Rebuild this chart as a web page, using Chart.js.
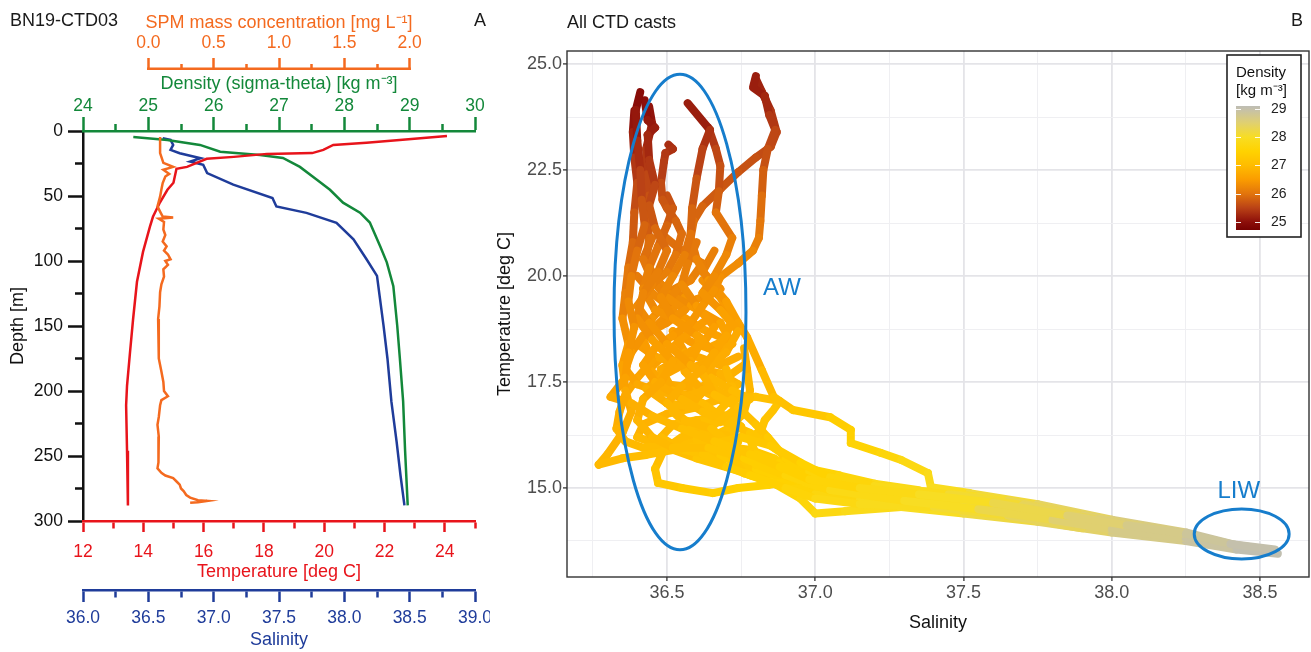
<!DOCTYPE html>
<html>
<head>
<meta charset="utf-8">
<title>CTD profile and T-S diagram</title>
<script src="https://cdn.jsdelivr.net/npm/chart.js@4/dist/chart.umd.min.js"></script>
<style>
  html, body { margin:0; padding:0; background:#fff; }
  #wrap { position:relative; width:1311px; height:652px; overflow:hidden; font-family:'Liberation Sans', Arial, sans-serif; }
  canvas { position:absolute; top:0; }
  #cA { left:0; }
  #cB { left:490px; }
  .txt { position:absolute; font-size:18px; line-height:18px; white-space:nowrap; color:#1a1a1a; }
</style>
</head>
<body>
<div id="wrap">
  <canvas id="cA" width="490" height="652"></canvas>
  <canvas id="cB" width="821" height="652"></canvas>
  <div class="txt" style="left:10px; top:11px;">BN19-CTD03</div>
  <div class="txt" style="left:474px; top:11px;">A</div>
  <div class="txt" style="left:567px; top:13px;">All CTD casts</div>
  <div class="txt" style="left:1291px; top:11px;">B</div>
</div>
<script>
// ================= Panel A: profile data (depth in m) =================
const tempDepth   = [3.8,6.9,9.0,10.7,14.5,17.0,17.6,19.9,21.4,27.6,29.1,39.8,45.2,55,66,73.5,93,116,145,170,196,211,246,288];
const temperature = [24.07,22.5,21.4,20.3,19.97,19.6,18.1,17.0,16.1,15.45,15.1,15.0,14.8,14.55,14.32,14.22,13.99,13.79,13.66,13.56,13.46,13.43,13.46,13.49];

const salDepth = [5.6,6.9,10.7,14.5,17.1,20.9,23.5,26,32.4,41.3,51.5,58.1,63,70.6,83.4,98.7,111.5,126.8,149.7,175,208,239,265,288];
const salinity = [36.61,36.67,36.69,36.67,36.74,36.90,36.82,36.92,36.95,37.15,37.45,37.48,37.71,37.94,38.07,38.17,38.25,38.27,38.30,38.33,38.36,38.40,38.43,38.46];

const densDepth  = [4.6,6.9,10.7,16,18.4,20.7,27.6,37.5,45.2,55.1,62.8,70.4,88.8,101,119.4,150,175,208,246,288];
const sigmaTheta = [24.77,25.29,25.79,26.10,26.71,27.06,27.32,27.58,27.78,27.98,28.24,28.39,28.55,28.65,28.75,28.81,28.85,28.90,28.93,28.97];

const spmDepth = [4.6,10,17,24.5,27.6,29.8,33,35,40,45,50.5,58,62,65.8,66.6,67.5,70,75.8,80,85,88.8,92,95,98.7,100,103,106.4,112,118,124,135,144.6,160,175,185,193,200,204,207,211,220,226,235,246,255,259.5,263,265,267,270,272,275,277,280,282,284,284.5,285.5,286];
const spmConc  = [0.09,0.09,0.09,0.115,0.19,0.115,0.16,0.13,0.11,0.10,0.09,0.07,0.09,0.11,0.19,0.08,0.12,0.115,0.13,0.11,0.14,0.12,0.15,0.17,0.13,0.15,0.115,0.12,0.10,0.09,0.085,0.075,0.08,0.08,0.10,0.115,0.12,0.15,0.10,0.09,0.08,0.07,0.08,0.08,0.075,0.07,0.10,0.13,0.19,0.22,0.24,0.25,0.27,0.29,0.32,0.38,0.45,0.38,0.32];

// tick labels, panel A
const depthTickLabels = [0,50,100,150,200,250,300];
const tempTickLabels  = [12,14,16,18,20,22,24];
const salTickLabels   = [36.0,36.5,37.0,37.5,38.0,38.5,39.0];
const densTickLabels  = [24,25,26,27,28,29,30];
const spmTickLabels   = [0.0,0.5,1.0,1.5,2.0];

// ================= Panel B: T-S casts, points = [salinity, temperature, sigma-theta] =================
const cast01 = [[36.41,24.34,24.9],[36.395,23.92,25.0],[36.40,23.2,25.2],[36.41,22.5,25.4],[36.415,21.8,25.6],[36.425,21.2,25.8],[36.40,20.6,25.9],[36.38,20.0,26.1],[36.37,19.4,26.2],[36.39,18.8,26.35],[36.37,18.2,26.45],[36.36,17.6,26.55],[36.31,17.15,26.65],[36.38,17.0,26.75],[36.45,16.7,26.85],[36.55,16.4,27.0],[36.66,16.1,27.1],[36.78,15.8,27.3],[36.88,15.5,27.4],[36.98,15.2,27.5],[37.15,15.0,27.7],[37.35,14.85,27.9],[37.60,14.65,28.1],[37.85,14.35,28.4],[38.05,14.12,28.6],[38.25,13.92,28.8],[38.40,13.68,28.9],[38.55,13.55,29.1]];
const cast02 = [[36.425,24.15,24.9],[36.435,23.68,25.1],[36.46,23.5,25.1],[36.435,23.33,25.2],[36.44,22.74,25.3],[36.46,22.15,25.5],[36.44,21.67,25.6],[36.46,21.13,25.8],[36.50,20.6,26.0],[36.47,20.1,26.1],[36.42,19.6,26.2],[36.40,19.0,26.25],[36.45,18.5,26.45],[36.52,18.0,26.65],[36.48,17.5,26.65],[36.42,17.1,26.75],[36.40,16.6,26.85],[36.45,16.2,26.9],[36.52,15.95,27.0],[36.64,15.95,27.1],[36.76,15.7,27.3],[36.90,15.3,27.5],[37.05,14.95,27.7],[37.30,14.7,27.9],[37.55,14.5,28.1],[37.80,14.25,28.4],[38.00,14.02,28.6],[38.25,13.82,28.8],[38.42,13.6,29.0],[38.54,13.5,29.1]];
const cast03 = [[36.39,23.9,25.0],[36.385,23.4,25.1],[36.39,22.8,25.3],[36.40,22.2,25.5],[36.39,21.5,25.7],[36.385,20.8,25.8],[36.37,20.2,26.0],[36.36,19.6,26.1],[36.35,19.0,26.25],[36.37,18.4,26.45],[36.35,17.9,26.55],[36.36,17.3,26.65],[36.38,16.8,26.75],[36.35,16.3,26.8],[36.30,15.8,26.9],[36.27,15.55,26.9],[36.35,15.7,27.0],[36.43,15.78,27.0],[36.58,15.97,27.1],[36.68,16.08,27.1],[36.75,16.2,27.2],[36.85,16.0,27.3],[36.95,15.6,27.4],[37.05,15.25,27.6],[37.2,15.05,27.7],[37.45,14.85,28.0],[37.7,14.6,28.2],[37.95,14.25,28.5],[38.2,13.98,28.7],[38.38,13.7,28.9],[38.52,13.55,29.1]];
const cast04 = [[36.57,24.08,25.0],[36.645,23.45,25.3],[36.62,23.0,25.4],[36.60,22.3,25.6],[36.585,21.6,25.8],[36.58,21.0,25.9],[36.56,20.5,26.1],[36.52,20.0,26.2],[36.48,19.5,26.3],[36.52,19.0,26.35],[36.60,18.6,26.55],[36.66,18.2,26.65],[36.62,17.8,26.75],[36.55,17.4,26.75],[36.50,17.0,26.85],[36.56,16.6,26.95],[36.65,16.4,27.0],[36.72,16.0,27.2],[36.80,15.55,27.3],[36.92,15.25,27.5],[37.05,15.05,27.6],[37.25,14.9,27.8],[37.5,14.75,28.0],[37.75,14.5,28.3],[38.0,14.15,28.5],[38.2,13.95,28.7]];
const cast05 = [[36.64,23.5,25.3],[36.665,23.0,25.5],[36.68,22.6,25.6],[36.675,22.0,25.7],[36.665,21.5,25.9],[36.72,20.9,26.1],[36.70,20.5,26.2],[36.66,20.0,26.3],[36.62,19.6,26.3],[36.68,19.2,26.5],[36.74,18.7,26.65],[36.70,18.2,26.75],[36.62,17.7,26.75],[36.66,17.2,26.95],[36.74,16.9,27.05],[36.80,16.5,27.1],[36.84,16.2,27.2],[36.90,15.7,27.4],[36.98,15.4,27.5],[37.10,15.1,27.7],[37.4,14.9,27.9],[37.65,14.7,28.2],[37.9,14.35,28.4],[38.1,14.1,28.6]];
const cast06 = [[36.505,23.1,25.3],[36.52,23.0,25.3],[36.495,22.9,25.4],[36.49,22.7,25.4],[36.48,22.2,25.5],[36.485,21.8,25.7],[36.50,21.6,25.7],[36.53,21.3,25.8],[36.55,21.0,25.9],[36.53,20.5,26.0],[36.50,20.1,26.1],[36.45,19.8,26.2],[36.40,19.3,26.2],[36.44,18.9,26.35],[36.50,18.4,26.45],[36.58,17.9,26.65],[36.65,17.6,26.85],[36.72,17.3,26.95],[36.78,17.1,27.05],[36.72,16.8,27.05],[36.66,16.5,27.0],[36.60,16.15,27.1],[36.62,15.8,27.1],[36.70,15.5,27.3],[36.78,15.3,27.4],[36.9,15.0,27.5],[37.0,14.75,27.7],[37.15,14.62,27.8],[37.4,14.55,28.0],[37.65,14.35,28.2],[37.9,14.05,28.5]];
const cast07 = [[36.80,24.72,25.2],[36.79,24.45,25.1],[36.83,24.25,25.2],[36.845,23.8,25.3],[36.865,23.45,25.5],[36.84,23.0,25.6],[36.825,22.5,25.7],[36.82,21.9,25.9],[36.815,21.3,26.0],[36.81,20.9,26.1],[36.79,20.6,26.2],[36.74,20.3,26.3],[36.68,19.98,26.3],[36.66,19.67,26.4],[36.62,19.3,26.4],[36.58,18.9,26.45],[36.52,18.6,26.45],[36.46,18.3,26.55],[36.42,17.9,26.55],[36.46,17.5,26.65],[36.55,17.1,26.85],[36.62,16.8,26.95],[36.70,16.55,27.05],[36.78,16.3,27.1],[36.86,15.95,27.3],[36.95,15.5,27.5],[37.05,15.2,27.6],[37.3,14.95,27.8],[37.55,14.8,28.1],[37.8,14.45,28.3],[38.0,14.2,28.5]];
const cast08 = [[36.80,24.65,25.2],[36.82,24.35,25.2],[36.85,23.9,25.3],[36.87,23.4,25.5],[36.85,23.05,25.6],[36.80,22.8,25.6],[36.74,22.45,25.7],[36.68,22.05,25.7],[36.62,21.65,25.8],[36.59,21.3,25.9],[36.58,20.9,26.0],[36.60,20.4,26.1],[36.64,19.9,26.3],[36.70,19.4,26.5],[36.74,18.9,26.55],[36.77,18.56,26.65],[36.82,17.78,26.85],[36.86,17.15,27.05],[36.925,16.84,27.15],[37.05,16.67,27.35],[37.12,16.37,27.4],[37.12,16.06,27.5],[37.22,15.83,27.6],[37.29,15.66,27.7],[37.38,15.35,27.8],[37.39,15.02,27.9],[37.52,14.88,28.0],[37.75,14.62,28.3],[38.0,14.25,28.5],[38.25,13.95,28.8],[38.42,13.65,29.0],[38.55,13.5,29.1]];
const cast09 = [[36.50,21.9,25.6],[36.52,21.6,25.7],[36.50,21.2,25.8],[36.47,20.7,25.9],[36.44,20.2,26.1],[36.42,19.7,26.2],[36.46,19.2,26.3],[36.55,18.9,26.45],[36.62,18.5,26.55],[36.58,18.0,26.65],[36.50,17.7,26.65],[36.43,17.35,26.75],[36.50,17.0,26.85],[36.60,16.9,26.95],[36.70,16.7,27.05],[36.75,16.45,27.1],[36.70,16.25,27.1],[36.62,16.35,27.0],[36.55,16.2,27.0],[36.49,15.9,27.0],[36.46,15.45,27.1],[36.47,15.12,27.2],[36.55,15.0,27.3],[36.655,14.88,27.4],[36.74,15.0,27.4],[36.84,15.07,27.5],[36.94,15.19,27.5],[37.05,15.1,27.6],[37.2,14.9,27.8],[37.45,14.8,28.0]];
const cast10 = [[36.60,20.8,26.0],[36.57,20.3,26.1],[36.55,19.8,26.2],[36.60,19.3,26.4],[36.66,18.8,26.55],[36.62,18.4,26.55],[36.55,18.1,26.65],[36.48,17.8,26.65],[36.52,17.3,26.75],[36.62,17.0,26.95],[36.70,16.6,27.05],[36.74,16.1,27.2],[36.72,15.7,27.2],[36.76,15.35,27.3],[36.85,15.15,27.5],[36.95,14.75,27.6],[37.0,14.4,27.7],[37.1,14.45,27.8],[37.29,14.55,27.9],[37.5,14.4,28.1],[37.75,14.2,28.3],[38.0,13.95,28.6],[38.25,13.75,28.8],[38.42,13.55,29.0],[38.56,13.45,29.1]];
const cast11 = [[36.45,20.9,25.9],[36.42,20.4,26.0],[36.45,19.9,26.1],[36.50,19.5,26.3],[36.56,19.2,26.4],[36.50,18.9,26.35],[36.42,18.6,26.35],[36.38,18.2,26.45],[36.36,17.8,26.55],[36.40,17.45,26.65],[36.48,17.25,26.75],[36.58,17.2,26.85],[36.66,17.35,26.85],[36.72,17.1,26.95],[36.75,16.7,27.05],[36.68,16.55,27.05],[36.60,16.6,27.05],[36.52,16.5,26.9],[36.48,16.2,26.9],[36.55,15.9,27.1],[36.68,15.75,27.2],[36.80,15.45,27.4],[36.90,15.1,27.5],[37.0,14.85,27.6],[37.15,14.7,27.8],[37.35,14.6,28.0],[37.6,14.45,28.2],[37.9,14.1,28.5],[38.1,13.9,28.7]];
const cast12 = [[36.62,19.9,26.3],[36.68,19.5,26.4],[36.72,19.0,26.55],[36.70,18.6,26.65],[36.66,18.2,26.65],[36.70,17.8,26.85],[36.72,17.4,26.95],[36.73,17.12,26.95],[36.80,17.15,27.05],[36.88,17.05,27.15],[36.86,16.85,27.15],[36.83,16.6,27.15],[36.82,16.4,27.2],[36.78,16.15,27.2],[36.80,15.8,27.3],[36.88,15.6,27.4],[36.98,15.45,27.5],[37.08,15.3,27.6],[37.2,15.1,27.7],[37.35,14.95,27.9]];
const cast13 = [[36.55,19.8,26.2],[36.50,19.4,26.3],[36.45,19.0,26.35],[36.42,18.5,26.45],[36.45,18.0,26.55],[36.40,17.6,26.65],[36.36,17.2,26.65],[36.34,16.8,26.75],[36.33,16.4,26.8],[36.36,16.1,26.9],[36.42,15.95,27.0],[36.55,16.05,27.0],[36.65,16.2,27.1],[36.72,16.45,27.1],[36.76,16.8,27.05],[36.78,17.3,26.95],[36.77,17.8,26.85],[36.76,18.3,26.75]];
const cast14 = [[36.52,18.3,26.55],[36.58,17.9,26.65],[36.65,17.5,26.85],[36.60,17.1,26.85],[36.52,16.8,26.85],[36.58,16.4,27.0],[36.66,16.3,27.1],[36.72,15.9,27.2],[36.78,15.6,27.3],[36.86,15.3,27.4],[36.96,15.0,27.6],[37.1,14.8,27.7],[37.3,14.75,27.9],[37.5,14.6,28.1],[37.7,14.4,28.3],[37.95,14.08,28.5],[38.15,13.88,28.7],[38.35,13.7,28.9],[38.5,13.52,29.1]];
const cast15 = [[36.48,21.0,25.9],[36.55,20.6,26.0],[36.62,20.3,26.1],[36.58,19.9,26.2],[36.50,19.6,26.2],[36.58,19.3,26.4],[36.68,18.9,26.5],[36.72,18.4,26.7],[36.64,18.0,26.7],[36.56,17.75,26.7],[36.62,17.3,26.8],[36.70,17.0,27.0],[36.66,16.7,27.0],[36.58,16.55,27.0],[36.66,16.0,27.1],[36.78,15.9,27.2],[36.86,15.7,27.3],[36.95,15.35,27.5],[37.05,15.0,27.6],[37.2,14.85,27.8],[37.4,14.7,27.9],[37.6,14.55,28.1],[37.8,14.3,28.3]];
const cast16 = [[36.40,20.0,26.0],[36.45,19.6,26.2],[36.52,19.2,26.3],[36.46,18.8,26.4],[36.40,18.4,26.4],[36.46,18.1,26.6],[36.56,17.9,26.7],[36.68,17.7,26.8],[36.74,17.45,26.9],[36.68,17.1,26.9],[36.60,16.9,26.9],[36.50,16.75,26.9],[36.42,16.5,26.8],[36.40,16.2,26.9],[36.48,16.0,27.0],[36.60,15.7,27.1],[36.72,15.45,27.3],[36.82,15.25,27.4],[36.92,15.05,27.5],[37.05,14.9,27.6],[37.25,14.8,27.8]];
const cast17 = [[36.44,24.0,25.0],[36.45,23.6,25.1],[36.43,23.0,25.3],[36.43,22.4,25.5],[36.44,21.9,25.6],[36.43,21.4,25.7],[36.44,20.9,25.85],[36.43,20.3,26.0],[36.48,19.8,26.15],[36.56,19.5,26.3],[36.64,19.0,26.5],[36.58,18.7,26.5],[36.50,18.2,26.55],[36.44,17.8,26.6],[36.50,17.45,26.7],[36.60,17.35,26.8],[36.70,17.6,26.85],[36.76,17.9,26.8]];
const cast18 = [[36.66,20.6,26.1],[36.62,20.1,26.2],[36.68,19.7,26.35],[36.60,19.45,26.35],[36.54,19.1,26.4],[36.62,18.75,26.5],[36.70,18.5,26.65],[36.64,18.3,26.65],[36.58,18.45,26.55],[36.52,18.7,26.45],[36.56,18.2,26.6],[36.68,17.9,26.75],[36.74,18.1,26.75]];
const casts = [cast01,cast02,cast03,cast04,cast05,cast06,cast07,cast08,cast09,cast10,cast11,cast12,cast13,cast14,cast15,cast16,cast17,cast18];

// tick labels, panel B
const tsSalLabels  = [36.5, 37.0, 37.5, 38.0, 38.5];
const tsTempLabels = [15.0, 17.5, 20.0, 22.5, 25.0];
const colorbarTicks = [25, 26, 27, 28, 29];
const colorbarRange = [24.72, 29.1];

// water-mass ellipses (centre and semi-axes in data units) and labels
const waterMasses    = ['AW', 'LIW'];
const ellipseCenterS = [36.544, 38.438];
const ellipseCenterT = [19.15, 13.915];
const ellipseRadiusS = [0.2225, 0.160];
const ellipseRadiusT = [5.61, 0.59];
const massLabelS = [36.888, 38.428];
const massLabelT = [19.72, 14.93];

// ================= styling =================
const FONT = "'Liberation Sans', Arial, Helvetica, sans-serif";
Chart.defaults.font.family = FONT;
const cRed = '#e8141b', cBlue = '#1f3c9a', cGreen = '#13883a', cOrange = '#f46a1f', cBlack = '#111111';
const ellipseColor = '#167dcc';
const cmapStops  = [24.7, 25.0, 25.5, 26.0, 26.5, 27.0, 27.5, 28.0, 28.5, 29.0, 29.1];
const cmapColors = [[118,0,0],[140,14,10],[186,66,22],[226,116,12],[250,156,0],[255,188,0],[255,210,0],[248,221,35],[224,208,112],[196,192,172],[190,189,180]];

function densityColor(v) {
  if (v <= cmapStops[0]) return `rgb(${cmapColors[0].join(',')})`;
  for (let i = 1; i < cmapStops.length; i++) {
    if (v <= cmapStops[i]) {
      const t = (v - cmapStops[i-1]) / (cmapStops[i] - cmapStops[i-1]);
      const a = cmapColors[i-1], b = cmapColors[i];
      return `rgb(${Math.round(a[0]+(b[0]-a[0])*t)},${Math.round(a[1]+(b[1]-a[1])*t)},${Math.round(a[2]+(b[2]-a[2])*t)})`;
    }
  }
  return `rgb(${cmapColors[cmapColors.length-1].join(',')})`;
}

const isIn = (arr, v) => arr.some(a => Math.abs(a - v) < 1e-6);
const tv = c => (c && c.tick) ? c.tick.value : NaN;
const toXY = (xs, ys) => xs.map((x, i) => ({x: x, y: ys[i]}));

// ================= Panel A chart =================
function profileAxis(o) {
  return {
    type: 'linear', axis: o.axis, position: o.position, weight: o.weight || 0,
    min: o.min, max: o.max, reverse: !!o.reverse,
    ticks: {
      stepSize: o.step, autoSkip: false, maxRotation: 0, minRotation: 0, padding: o.labelPad,
      color: o.color, font: {size: 17.5, family: FONT},
      callback: v => isIn(o.labels, v) ? o.fmt(v) : ''
    },
    grid: {
      drawOnChartArea: false, drawTicks: true, tickLength: o.tl, tickWidth: 2.5,
      tickColor: c => {
        const v = tv(c);
        if (o.visMin !== undefined && (v < o.visMin - 1e-6 || v > o.visMax + 1e-6)) return 'rgba(0,0,0,0)';
        return o.color;
      },
      tickBorderDash: c => isIn(o.labels, tv(c)) ? [] : o.minorDash
    },
    border: {display: o.border !== false, color: o.color, width: 2.5},
    title: {display: true, text: o.title, color: o.color, font: {size: 18, family: FONT}, padding: o.titlePad},
    afterFit: s => {
      if (o.axis === 'y') { s.width = o.size; s.paddingTop = 0; s.paddingBottom = 0; }
      else { s.height = o.size; s.paddingLeft = 0; s.paddingRight = 0; }
    }
  };
}

const spmAxisLine = {
  id: 'spmAxisLine',
  afterDraw(chart) {
    const s = chart.scales.xSpm, ctx = chart.ctx;
    ctx.save();
    ctx.strokeStyle = cOrange; ctx.lineWidth = 2.5; ctx.lineCap = 'butt';
    const y = s.bottom - 1.25;
    ctx.beginPath();
    ctx.moveTo(s.getPixelForValue(spmTickLabels[0]) - 1.25, y);
    ctx.lineTo(s.getPixelForValue(spmTickLabels[spmTickLabels.length - 1]) + 1.25, y);
    ctx.stroke();
    ctx.restore();
  }
};

const lineStyle = {showLine: true, pointRadius: 0, borderWidth: 2.5, fill: false, tension: 0, yAxisID: 'y'};

new Chart(document.getElementById('cA'), {
  type: 'scatter',
  data: {
    datasets: [
      Object.assign({label: 'SPM', data: toXY(spmConc, spmDepth), xAxisID: 'xSpm', borderColor: cOrange}, lineStyle),
      Object.assign({label: 'Temperature', data: toXY(temperature, tempDepth), xAxisID: 'xTemp', borderColor: cRed}, lineStyle),
      Object.assign({label: 'Density', data: toXY(sigmaTheta, densDepth), xAxisID: 'xDens', borderColor: cGreen}, lineStyle),
      Object.assign({label: 'Salinity', data: toXY(salinity, salDepth), xAxisID: 'xSal', borderColor: cBlue}, lineStyle)
    ]
  },
  options: {
    responsive: false, animation: false, events: [],
    layout: {padding: {left: 0, right: 15, top: 0, bottom: 0}},
    plugins: {legend: {display: false}, tooltip: {enabled: false}},
    scales: {
      y: profileAxis({axis: 'y', position: 'left', reverse: true, min: 0, max: 300, step: 25, color: cBlack,
        labels: depthTickLabels, fmt: v => String(Math.round(v)), tl: 15, minorDash: [0, 7, 40], labelPad: 5,
        title: 'Depth [m]', titlePad: {top: 7, bottom: 0}, size: 83}),
      xDens: profileAxis({axis: 'x', position: 'top', weight: 0, min: 24, max: 30, step: 0.5, color: cGreen,
        labels: densTickLabels, fmt: v => String(Math.round(v)), tl: 14, minorDash: [0, 7, 40], labelPad: 0,
        title: 'Density (sigma-theta) [kg m\u207B\u00B3]', titlePad: {top: 3, bottom: 0}, size: 61}),
      xSpm: profileAxis({axis: 'x', position: 'top', weight: 1, min: -0.5, max: 2.5, step: 0.25, color: cOrange,
        labels: spmTickLabels, fmt: v => v.toFixed(1), tl: 12, minorDash: [0, 6, 40], labelPad: 4, border: false,
        visMin: 0, visMax: 2, title: 'SPM mass concentration [mg L\u207B\u00B9]', titlePad: {top: 12, bottom: 0}, size: 70}),
      xTemp: profileAxis({axis: 'x', position: 'bottom', weight: 0, min: 12, max: 25, step: 1, color: cRed,
        labels: tempTickLabels, fmt: v => String(Math.round(v)), tl: 11, minorDash: [6, 40], labelPad: 9.5,
        title: 'Temperature [deg C]', titlePad: {top: 0, bottom: 7}, size: 69}),
      xSal: profileAxis({axis: 'x', position: 'bottom', weight: 1, min: 36, max: 39, step: 0.25, color: cBlue,
        labels: salTickLabels, fmt: v => v.toFixed(1), tl: 12, minorDash: [6, 40], labelPad: 5.5,
        title: 'Salinity', titlePad: {top: 0, bottom: 1}, size: 62})
    }
  },
  plugins: [spmAxisLine]
});

// ================= Panel B chart =================
const majorGrid = '#e4e4e8', minorGrid = '#efeff2';

const tsDecor = {
  id: 'tsDecor',
  afterDatasetsDraw(chart) {
    const {ctx, scales: {x, y}} = chart;
    ctx.save();
    ctx.strokeStyle = ellipseColor; ctx.lineWidth = 3;
    for (let i = 0; i < waterMasses.length; i++) {
      const cx = x.getPixelForValue(ellipseCenterS[i]);
      const cy = y.getPixelForValue(ellipseCenterT[i]);
      const rx = Math.abs(x.getPixelForValue(ellipseCenterS[i] + ellipseRadiusS[i]) - cx);
      const ry = Math.abs(y.getPixelForValue(ellipseCenterT[i] + ellipseRadiusT[i]) - cy);
      ctx.beginPath(); ctx.ellipse(cx, cy, rx, ry, 0, 0, Math.PI * 2); ctx.stroke();
    }
    ctx.fillStyle = ellipseColor; ctx.font = `24px ${FONT}`;
    ctx.textAlign = 'center'; ctx.textBaseline = 'middle';
    for (let i = 0; i < waterMasses.length; i++) {
      ctx.fillText(waterMasses[i], x.getPixelForValue(massLabelS[i]), y.getPixelForValue(massLabelT[i]));
    }
    ctx.restore();
  },
  afterDraw(chart) {
    const {ctx, chartArea: a} = chart;
    ctx.save();
    // panel border
    ctx.strokeStyle = '#333'; ctx.lineWidth = 1.4;
    ctx.strokeRect(a.left, a.top, a.right - a.left, a.bottom - a.top);
    // colour-bar legend
    const bx = 737, by = 55, bw = 74, bh = 182;
    ctx.fillStyle = '#fff'; ctx.fillRect(bx, by, bw, bh);
    ctx.strokeStyle = '#222'; ctx.lineWidth = 1.6; ctx.strokeRect(bx, by, bw, bh);
    ctx.fillStyle = '#111'; ctx.font = `15px ${FONT}`; ctx.textAlign = 'left'; ctx.textBaseline = 'middle';
    ctx.fillText('Density', 746, 73);
    ctx.fillText('[kg m\u207B\u00B3]', 746, 91);
    const barL = 746, barR = 770, barTop = 106, barBot = 230;
    const [vmin, vmax] = colorbarRange;
    const py = v => barBot - (v - vmin) / (vmax - vmin) * (barBot - barTop);
    const g = ctx.createLinearGradient(0, barBot, 0, barTop);
    g.addColorStop(0, densityColor(vmin));
    for (let i = 0; i < cmapStops.length; i++) {
      const t = (cmapStops[i] - vmin) / (vmax - vmin);
      if (t > 0 && t < 1) g.addColorStop(t, densityColor(cmapStops[i]));
    }
    g.addColorStop(1, densityColor(vmax));
    ctx.fillStyle = g; ctx.fillRect(barL, barTop, barR - barL, barBot - barTop);
    ctx.strokeStyle = 'rgba(255,255,255,0.9)'; ctx.lineWidth = 1;
    ctx.fillStyle = '#222'; ctx.font = `14px ${FONT}`;
    for (const v of colorbarTicks) {
      const yy = Math.round(py(v)) + 0.5;
      ctx.beginPath(); ctx.moveTo(barL, yy); ctx.lineTo(barL + 5, yy); ctx.moveTo(barR - 5, yy); ctx.lineTo(barR, yy); ctx.stroke();
      ctx.fillText(String(v), 781, py(v));
    }
    ctx.restore();
  }
};

const tsDatasets = casts.map((cast, k) => ({
  label: 'cast ' + (k + 1),
  data: cast.map(p => ({x: p[0], y: p[1]})),
  showLine: true, pointRadius: 0, borderWidth: 8, tension: 0, fill: false,
  borderCapStyle: 'round', borderJoinStyle: 'round',
  borderColor: densityColor(cast[0][2]),
  segment: {
    borderColor: c => densityColor((cast[c.p0DataIndex][2] + cast[c.p1DataIndex][2]) / 2)
  }
}));

new Chart(document.getElementById('cB'), {
  type: 'scatter',
  data: {datasets: tsDatasets},
  options: {
    responsive: false, animation: false, events: [],
    layout: {padding: {left: 0, right: 2, top: 51, bottom: 0}},
    plugins: {legend: {display: false}, tooltip: {enabled: false}},
    scales: {
      x: {
        type: 'linear', position: 'bottom', min: 36.163, max: 38.665,
        ticks: {stepSize: 0.25, includeBounds: false, autoSkip: false, maxRotation: 0, minRotation: 0, padding: 1,
          color: '#4d4d4d', font: {size: 18, family: FONT},
          callback: v => isIn(tsSalLabels, v) ? v.toFixed(1) : ''},
        grid: {
          color: c => isIn(tsSalLabels, tv(c)) ? majorGrid : minorGrid,
          lineWidth: c => isIn(tsSalLabels, tv(c)) ? 1.8 : 1,
          tickLength: 4, tickWidth: 1.3,
          tickColor: c => isIn(tsSalLabels, tv(c)) ? '#333' : 'rgba(0,0,0,0)'
        },
        border: {display: false},
        title: {display: true, text: 'Salinity', color: '#111', font: {size: 18, family: FONT}, padding: {top: 0, bottom: 18}},
        afterFit: s => { s.height = 75; s.paddingLeft = 0; s.paddingRight = 0; }
      },
      y: {
        type: 'linear', position: 'left', min: 12.9, max: 25.31,
        ticks: {stepSize: 1.25, includeBounds: false, autoSkip: false, padding: 1,
          color: '#4d4d4d', font: {size: 18, family: FONT},
          callback: v => isIn(tsTempLabels, v) ? v.toFixed(1) : ''},
        grid: {
          color: c => isIn(tsTempLabels, tv(c)) ? majorGrid : minorGrid,
          lineWidth: c => isIn(tsTempLabels, tv(c)) ? 1.8 : 1,
          tickLength: 4, tickWidth: 1.3,
          tickColor: c => isIn(tsTempLabels, tv(c)) ? '#333' : 'rgba(0,0,0,0)'
        },
        border: {display: false},
        title: {display: true, text: 'Temperature [deg C]', color: '#111', font: {size: 18, family: FONT}, padding: {top: 4, bottom: 0}},
        afterFit: s => { s.width = 77; s.paddingTop = 0; s.paddingBottom = 0; }
      }
    }
  },
  plugins: [tsDecor]
});
</script>
</body>
</html>
